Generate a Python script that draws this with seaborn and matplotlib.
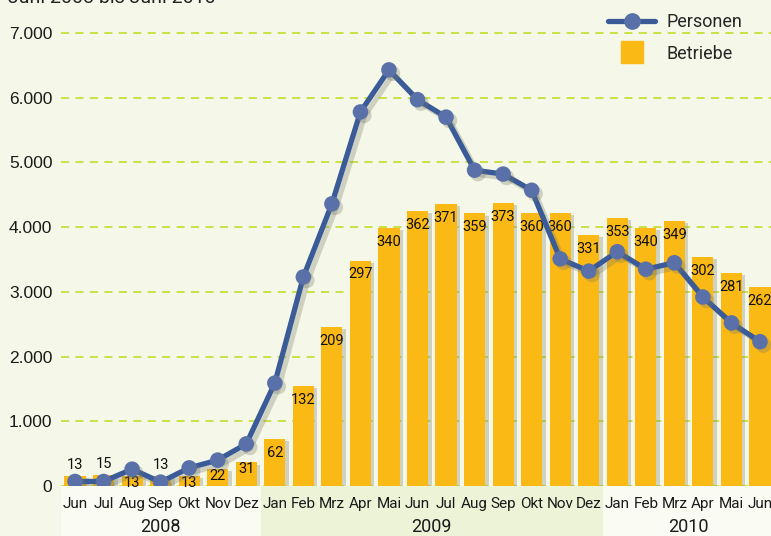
import matplotlib
matplotlib.use("Agg")
import matplotlib.pyplot as plt
import matplotlib.patheffects as pe
from matplotlib.lines import Line2D
from matplotlib.patches import Rectangle
import matplotlib.transforms as mtrans
import seaborn as sns
import pandas as pd

# ---------------- data ----------------
months = ["Jun", "Jul", "Aug", "Sep", "Okt", "Nov", "Dez",
          "Jan", "Feb", "Mrz", "Apr", "Mai", "Jun", "Jul", "Aug", "Sep", "Okt", "Nov", "Dez",
          "Jan", "Feb", "Mrz", "Apr", "Mai", "Jun"]
years = ["2008", "2009", "2010"]
year_spans = [(0, 6), (7, 18), (19, 24)]
personen = [70, 70, 260, 60, 280, 400, 650,
            1590, 3230, 4360, 5780, 6430, 5970, 5700, 4880, 4820, 4570, 3510, 3320,
            3620, 3350, 3450, 2920, 2520, 2230]
betriebe = [13, 15, 13, 13, 13, 22, 31,
            62, 132, 209, 297, 340, 362, 371, 359, 373, 360, 360, 331,
            353, 340, 349, 302, 281, 262]
yticks = [0, 1000, 2000, 3000, 4000, 5000, 6000, 7000]
ytick_labels = ["0", "1.000", "2.000", "3.000", "4.000", "5.000", "6.000", "7.000"]
title_text = "Juni 2008 bis Juni 2010"
label_above = [True, True, False, True, False, False, False] + [False] * 18

df = pd.DataFrame({"pos": range(len(months)), "personen": personen, "betriebe": betriebe})

# ---------------- style ----------------
BG = "#f5f8e8"
BAR = "#fbb916"
LINE = "#3a5b98"
MARK = "#5a70a8"
GRID = "#c8de3a"
BAND_LIGHT = "#fafbf2"
BAND_GREEN = "#edf3d6"
FONT = ["Roboto", "DejaVu Sans"]

sns.set_theme(style="white")
plt.rcParams["font.family"] = FONT

W, H = 771, 536
fig = plt.figure(figsize=(W / 100, H / 100), dpi=100, facecolor=BG)

left_px, right_px = 60.75, 771
bottom_px, top_px = 486, 20
ax = fig.add_axes([left_px / W, (H - bottom_px) / H, (right_px - left_px) / W, (bottom_px - top_px) / H])
ax.set_facecolor(BG)

px_per_month = 28.54
x0, x1 = -0.5, -0.5 + (right_px - left_px) / px_per_month
ymax = 7000 + (33 - top_px) / 0.0647
bar_factor = 11.73

# grid axis (bottom layer)
ax.set_xlim(x0, x1)
ax.set_ylim(0, ymax)
ax.set_yticks(yticks)
ax.set_yticklabels(ytick_labels, fontsize=12.5, color="#1a1a1a", family=["Liberation Sans", "DejaVu Sans"])
ax.tick_params(axis="y", length=0, pad=6)
for yv in yticks:
    ax.axhline(yv, color=GRID, lw=1.3, ls=(0, (4.5, 3.5)), zorder=0)
ax.set_xticks(range(len(months)))
ax.set_xticklabels(months, fontsize=11, color="#1a1a1a")
ax.tick_params(axis="x", length=0, pad=8)
for s in ax.spines.values():
    s.set_visible(False)

# year bands below axis
trans = mtrans.blended_transform_factory(ax.transData, ax.transAxes)
band_h = (H - bottom_px) / (bottom_px - top_px)
for i, (yr, (a, b)) in enumerate(zip(years, year_spans)):
    end = b + 0.5 if i < len(years) - 1 else x1 + 1
    r = Rectangle((a - 0.5, -band_h), end - (a - 0.5), band_h, transform=trans,
                  facecolor=BAND_GREEN if i == 1 else BAND_LIGHT, edgecolor="none",
                  clip_on=False, zorder=-5)
    ax.add_patch(r)
    ax.text((a + b) / 2, -(527 - bottom_px) / (bottom_px - top_px), yr, transform=trans,
            ha="center", va="center", fontsize=13, color="#1a1a1a")

# bars axis
axb = ax.twinx()
axb.set_ylim(0, ymax / bar_factor)
sns.barplot(data=df, x="pos", y="betriebe", native_scale=True, color=BAR, saturation=1,
            width=0.74, ax=axb, zorder=2)
shadow = [pe.SimplePatchShadow(offset=(2.5, -1.5), shadow_rgbFace="#8a8a7a", alpha=0.35), pe.Normal()]
for p in axb.patches:
    p.set_path_effects(shadow)
    p.set_edgecolor("none")
axb.set_xlim(x0, x1)
axb.set_yticks([])
axb.set_ylabel("")
axb.set_xlabel("")
for s in axb.spines.values():
    s.set_visible(False)
axb.patch.set_visible(False)

# bar labels
for i, v in enumerate(betriebe):
    if label_above[i]:
        axb.annotate(str(v), (i, v), xytext=(0, 8), textcoords="offset points",
                     ha="center", va="center", fontsize=10.5, color="#111111", zorder=5)
    else:
        off = -10 if v >= 50 else -5
        axb.annotate(str(v), (i, v), xytext=(0, off), textcoords="offset points",
                     ha="center", va="center", fontsize=10.5, color="#111111", zorder=5)

# line axis
axl = ax.twinx()
axl.set_ylim(0, ymax)
sns.lineplot(data=df, x="pos", y="personen", ax=axl, color=LINE, lw=3.8, zorder=6)
for ln in axl.lines:
    ln.set_path_effects([pe.SimpleLineShadow(offset=(3, -3), shadow_color="#777766", alpha=0.3), pe.Normal()])
sns.scatterplot(data=df, x="pos", y="personen", ax=axl, color=MARK, s=125, linewidth=0, zorder=7)
for c in axl.collections:
    c.set_path_effects([pe.SimplePatchShadow(offset=(2.5, -2.5), shadow_rgbFace="#777766", alpha=0.3), pe.Normal()])
axl.set_xlim(x0, x1)
axl.set_yticks([])
axl.set_ylabel("")
axl.set_xlabel("")
for s in axl.spines.values():
    s.set_visible(False)
axl.patch.set_visible(False)

# legend
handles = [Line2D([], [], color=LINE, lw=3.8, marker="o", markersize=11,
                  markerfacecolor=MARK, markeredgecolor=MARK),
           Line2D([], [], ls="none", marker="s", markersize=16, color=BAR)]
leg = fig.legend(handles, ["Personen", "Betriebe"], loc="upper left",
                 bbox_to_anchor=(592 / W, 1 + 3 / H), frameon=False, fontsize=13,
                 handlelength=2.6, handletextpad=0.6, labelspacing=0.75)

# clipped subtitle at top
fig.text(8 / W, 1 - 3 / H, title_text, ha="left", va="baseline", fontsize=14, color="#222222")

fig.savefig("out.png", dpi=100, facecolor=BG)
